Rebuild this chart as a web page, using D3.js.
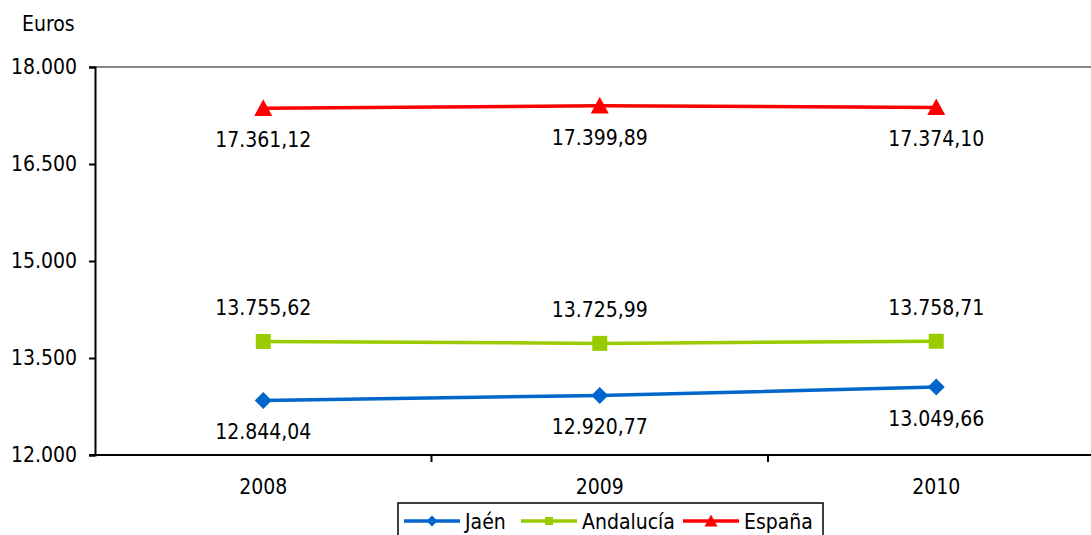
<!DOCTYPE html>
<html>
<head>
<meta charset="utf-8">
<script src="https://cdn.jsdelivr.net/npm/d3@7"></script>
<style>
  body { margin: 0; background: #fff; }
  svg { display: block; }
  svg text { font-family: "DejaVu Sans Condensed", "DejaVu Sans", sans-serif; font-size: 21px; fill: #000; }
</style>
</head>
<body>
<div id="myChart"></div>
<script>
let width = 1091;
let height = 535;

// Data
const years = ["2008", "2009", "2010"];
const jaen = [12844.04, 12920.77, 13049.66];
const andalucia = [13755.62, 13725.99, 13758.71];
const espana = [17361.12, 17399.89, 17374.10];
const yTicks = [12000, 13500, 15000, 16500, 18000];

// marker shapes
var diamond = s => "M0," + (-s) + "L" + s + ",0L0," + s + "L" + (-s) + ",0Z";
var square = s => "M" + (-s) + "," + (-s) + "H" + s + "V" + s + "H" + (-s) + "Z";
var triangle = s => "M0," + (-s) + "L" + s + "," + (s * 0.85) + "L" + (-s) + "," + (s * 0.85) + "Z";

const series = [
  { name: "Jaén", values: jaen, color: "#0066CC", shape: diamond, r: 8.5, lr: 5.5, labelDy: 39 },
  { name: "Andalucía", values: andalucia, color: "#99CC00", shape: square, r: 7.5, lr: 4, labelDy: -26 },
  { name: "España", values: espana, color: "#FF0000", shape: triangle, r: 9, lr: 6.5, labelDy: 39 }
];

let svg = d3.select("#myChart").append("svg")
  .attr("width", width)
  .attr("height", height);

// scales
var x = d3.scaleBand()
  .domain(years)
  .range([95, 1104.5]);

var y = d3.scaleLinear()
  .domain([12000, 18000])
  .range([455, 67]);

var fmt = d3.formatLocale({ decimal: ",", thousands: ".", grouping: [3], currency: ["", "€"] });
var labelFmt = fmt.format(",.2f");
var tickFmt = d => fmt.format(",")(d);

// top border line
svg.append("line")
  .attr("x1", 89).attr("x2", width)
  .attr("y1", y(18000)).attr("y2", y(18000))
  .attr("stroke", "#888").attr("stroke-width", 2);

// y axis
var yAxis = svg.append("g")
  .attr("transform", "translate(95,0)")
  .call(d3.axisLeft(y).tickValues(yTicks).tickSize(6).tickPadding(12).tickFormat(tickFmt));
yAxis.attr("font-size", null).attr("font-family", null);
yAxis.select(".domain").attr("stroke", "#000").attr("stroke-width", 2);
yAxis.selectAll(".tick line").attr("stroke", "#000").attr("stroke-width", 2);
yAxis.selectAll(".tick text").attr("fill", "#000");

// x axis
svg.append("line")
  .attr("x1", 89).attr("x2", width)
  .attr("y1", y(12000)).attr("y2", y(12000))
  .attr("stroke", "#000").attr("stroke-width", 2);

svg.append("g")
  .selectAll("line")
  .data(years.slice(1))
  .enter()
  .append("line")
  .attr("x1", d => x(d)).attr("x2", d => x(d))
  .attr("y1", y(12000)).attr("y2", y(12000) + 7)
  .attr("stroke", "#000").attr("stroke-width", 2);

svg.append("g")
  .selectAll("text")
  .data(years)
  .enter()
  .append("text")
  .attr("x", d => x(d) + x.bandwidth() / 2)
  .attr("y", 494)
  .attr("text-anchor", "middle")
  .text(d => d);

// axis title
svg.append("text")
  .attr("x", 22).attr("y", 31)
  .text("Euros");

// lines, markers, labels
var cx = d => x(d) + x.bandwidth() / 2;
var line = d3.line()
  .x((d, i) => cx(years[i]))
  .y(d => y(d));

series.forEach(function (s) {
  var g = svg.append("g");
  g.append("path")
    .attr("d", line(s.values))
    .attr("fill", "none")
    .attr("stroke", s.color)
    .attr("stroke-width", 3.5);
  g.selectAll(".marker")
    .data(s.values)
    .enter()
    .append("path")
    .attr("class", "marker")
    .attr("d", s.shape(s.r))
    .attr("transform", (d, i) => "translate(" + cx(years[i]) + "," + y(d) + ")")
    .attr("fill", s.color);
  g.selectAll(".lbl")
    .data(s.values)
    .enter()
    .append("text")
    .attr("class", "lbl")
    .attr("x", (d, i) => cx(years[i]))
    .attr("y", d => y(d) + s.labelDy)
    .attr("text-anchor", "middle")
    .text(d => labelFmt(d));
});

// legend
var legend = svg.append("g");
legend.append("rect")
  .attr("x", 398).attr("y", 503)
  .attr("width", 425).attr("height", 40)
  .attr("fill", "#fff")
  .attr("stroke", "#000").attr("stroke-width", 1.5);

var legendX = [404, 521, 683];
series.forEach(function (s, i) {
  var lx = legendX[i];
  legend.append("line")
    .attr("x1", lx).attr("x2", lx + 56)
    .attr("y1", 521).attr("y2", 521)
    .attr("stroke", s.color).attr("stroke-width", 3.5);
  legend.append("path")
    .attr("d", s.shape(s.lr))
    .attr("transform", "translate(" + (lx + 28) + ",521)")
    .attr("fill", s.color);
  legend.append("text")
    .attr("x", lx + 61).attr("y", 529)
    .text(s.name);
});
</script>
</body>
</html>
